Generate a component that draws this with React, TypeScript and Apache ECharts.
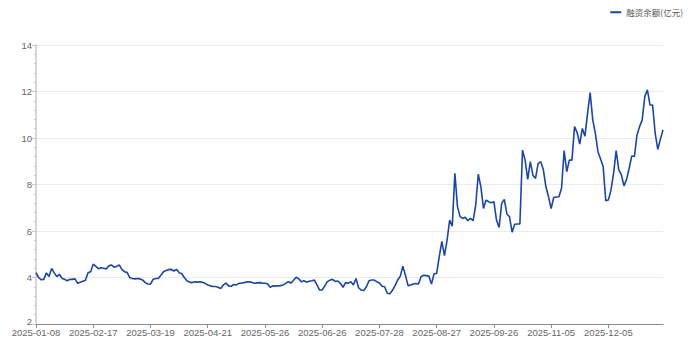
import React, { useEffect, useRef } from "react";
import * as echarts from "echarts";

// Trading calendar (A-share) from 2025-01-08 to 2026-01-07
const START_DATE = "2025-01-08";
const END_DATE = "2026-01-07";
const HOLIDAYS = [
  "2025-01-28", "2025-01-29", "2025-01-30", "2025-01-31", "2025-02-03", "2025-02-04",
  "2025-04-04",
  "2025-05-01", "2025-05-02", "2025-05-05",
  "2025-06-02",
  "2025-10-01", "2025-10-02", "2025-10-03", "2025-10-06", "2025-10-07", "2025-10-08",
  "2026-01-01", "2026-01-02",
];

function tradingDays(start: string, end: string, holidays: string[]): string[] {
  const out: string[] = [];
  const d = new Date(start + "T00:00:00Z");
  const e = new Date(end + "T00:00:00Z");
  while (d.getTime() <= e.getTime()) {
    const wd = d.getUTCDay();
    const s = d.toISOString().slice(0, 10);
    if (wd !== 0 && wd !== 6 && holidays.indexOf(s) < 0) out.push(s);
    d.setUTCDate(d.getUTCDate() + 1);
  }
  return out;
}

const categories = tradingDays(START_DATE, END_DATE, HOLIDAYS);

const seriesName = "融资余额(亿元)";

// 融资余额 (亿元)
const balanceQ1 = [
  4.21, 4.0, 3.9, 3.92, 4.2, 4.04, 4.39, 4.2, 4.04, 4.14,
  3.96, 3.92, 3.86, 3.92, 3.92, 3.94, 3.75, 3.8, 3.84, 3.88,
  4.2, 4.25, 4.57, 4.48, 4.38, 4.42, 4.4, 4.37, 4.5, 4.54,
  4.44, 4.48, 4.54, 4.35, 4.25, 4.22, 4.0, 3.96, 3.94, 3.96,
  3.94, 3.89, 3.78, 3.72, 3.71, 3.92, 3.96, 3.96, 4.1, 4.25,
  4.3, 4.34, 4.35, 4.28, 4.35, 4.21, 4.16, 4.0, 3.86, 3.8,
];
const balanceQ2 = [
  3.78, 3.82, 3.8, 3.82, 3.79, 3.75, 3.68, 3.64, 3.61, 3.61,
  3.58, 3.52, 3.68, 3.76, 3.64, 3.62, 3.7, 3.68, 3.75, 3.76,
  3.78, 3.81, 3.82, 3.79, 3.75, 3.77, 3.78, 3.76, 3.75, 3.73,
  3.58, 3.63, 3.64, 3.64, 3.65, 3.68, 3.75, 3.82, 3.76, 3.88,
  4.01, 3.94, 3.82, 3.86, 3.8, 3.84, 3.86, 3.89, 3.68, 3.46,
  3.46, 3.64, 3.82, 3.89, 3.92, 3.83, 3.85, 3.75, 3.58, 3.78,
];
const balanceQ3 = [
  3.75, 3.82, 3.68, 3.96, 3.56, 3.46, 3.44, 3.6, 3.86, 3.89,
  3.89, 3.82, 3.76, 3.62, 3.6, 3.32, 3.3, 3.45, 3.65, 3.89,
  4.05, 4.49, 4.1, 3.65, 3.68, 3.72, 3.74, 3.72, 4.03, 4.1,
  4.08, 4.06, 3.72, 4.15, 4.18, 4.9, 5.55, 4.94, 5.6, 6.47,
  6.21, 8.48, 7.05, 6.62, 6.54, 6.59, 6.44, 6.55, 6.44, 7.1,
  8.45, 7.9, 6.97, 7.33, 7.26, 7.22, 7.26, 6.47, 6.15, 7.19,
];
const balanceQ4 = [
  7.36, 6.73, 6.61, 5.95, 6.29, 6.3, 6.3, 9.48, 9.05, 8.22,
  8.98, 8.4, 8.26, 8.9, 8.98, 8.64, 7.9, 7.47, 6.96, 7.44,
  7.46, 7.47, 7.84, 9.46, 8.55, 9.05, 9.05, 10.49, 10.23, 9.74,
  10.41, 10.08, 11.06, 11.95, 10.78, 10.2, 9.41, 9.1, 8.77, 7.3,
  7.33, 7.76, 8.48, 9.46, 8.63, 8.41, 7.94, 8.22, 8.7, 9.23,
  9.2, 10.13, 10.49, 10.78, 11.78, 12.07, 11.42, 11.42, 10.2, 9.51,
  9.95, 10.35,
];
const balance = [...balanceQ1, ...balanceQ2, ...balanceQ3, ...balanceQ4];

const yMin = 2;
const yMax = 14;
const yStep = 2;
const xLabelEvery = 22;

const AXIS_FONT = "'Liberation Sans', Arial, sans-serif";

export default function App() {
  const ref = useRef<HTMLDivElement>(null);
  useEffect(() => {
    document.body.style.margin = "0";
    if (!ref.current) return;
    const chart = echarts.init(ref.current, undefined, { renderer: "svg" });
    chart.setOption({
      animation: false,
      backgroundColor: "#ffffff",
      textStyle: { fontFamily: "'Noto Sans CJK SC', 'Noto Sans', sans-serif" },
      legend: {
        right: 3,
        top: 3,
        icon: "rect",
        itemWidth: 11,
        itemHeight: 2,
        itemGap: 6,
        textStyle: { fontSize: 8.5, color: "#555" },
        data: [seriesName],
      },
      grid: { left: 36, right: 28, top: 45, bottom: 26, containLabel: false },
      xAxis: {
        type: "category",
        data: categories,
        boundaryGap: false,
        axisLine: { lineStyle: { color: "#8a8c94", width: 1 } },
        axisTick: { show: true, interval: xLabelEvery - 1, length: 4, lineStyle: { color: "#8a8c94" } },
        axisLabel: {
          interval: xLabelEvery - 1,
          fontSize: 9.5,
          fontFamily: AXIS_FONT,
          color: "#666",
          margin: 3,
        },
        splitLine: { show: false },
      },
      yAxis: {
        type: "value",
        min: yMin,
        max: yMax,
        interval: yStep,
        axisLine: { show: true, lineStyle: { color: "#c8c8c8", width: 1.5 } },
        axisTick: { show: true, length: 4, lineStyle: { color: "#c8c8c8" } },
        minorTick: { show: true, splitNumber: 5, length: 2, lineStyle: { color: "#c8c8c8" } },
        axisLabel: {
          fontSize: 9.5,
          fontFamily: AXIS_FONT,
          color: "#666",
          margin: 4,
          formatter: (v: number) => (v === yMin ? "{low|" + v + "}" : String(v)),
          rich: {
            low: { fontSize: 9.5, fontFamily: AXIS_FONT, color: "#666", padding: [0, 0, 5, 0] },
          },
        },
        splitLine: { show: true, lineStyle: { color: "#e8ebf3", width: 1 } },
      },
      series: [
        {
          name: seriesName,
          type: "line",
          data: balance,
          showSymbol: false,
          symbol: "none",
          lineStyle: { color: "#1c46a3", width: 1.6 },
          itemStyle: { color: "#1c46a3" },
        },
      ],
    });
    return () => chart.dispose();
  }, []);
  return <div ref={ref} style={{ width: 691, height: 350 }} />;
}
